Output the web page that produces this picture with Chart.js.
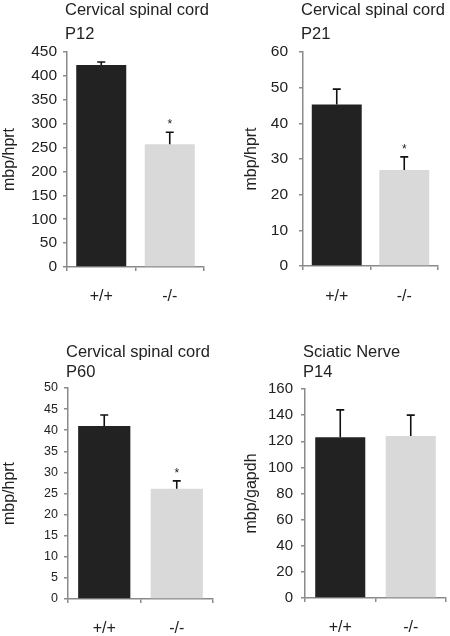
<!DOCTYPE html>
<html>
<head>
<meta charset="utf-8">
<script src="https://cdn.jsdelivr.net/npm/chart.js@4.4.0/dist/chart.umd.min.js"></script>
<style>
  body { margin: 0; background: #fff; }
  #wrap { position: relative; width: 450px; height: 636px; }
  canvas { position: absolute; }
</style>
</head>
<body>
<div id="wrap">
  <canvas id="c1" width="225" height="320" style="left:0;top:0"></canvas>
  <canvas id="c2" width="225" height="320" style="left:225px;top:0"></canvas>
  <canvas id="c3" width="225" height="316" style="left:0;top:320px"></canvas>
  <canvas id="c4" width="225" height="316" style="left:225px;top:320px"></canvas>
</div>
<script>
// genotypes
var genotypes = ['+/+', '-/-'];
var barColors = ['#222222', '#d9d9d9'];

// P12 cervical spinal cord
var p12Mean = [423, 257];
var p12Sem = [6, 25];
var p12Sig = [false, true];

// P21 cervical spinal cord
var p21Mean = [45.3, 26.9];
var p21Sem = [4.3, 3.7];
var p21Sig = [false, true];

// P60 cervical spinal cord
var p60Mean = [41, 26.1];
var p60Sem = [2.6, 1.9];
var p60Sig = [false, true];

// P14 sciatic nerve
var p14Mean = [123, 124];
var p14Sem = [21, 16];
var p14Sig = [false, false];

var FONT = '"Liberation Sans", Arial, Helvetica, sans-serif';
var AXIS = '#8a8a8a';
var TXT = '#222';

// error bars (upper only), asterisks and the two title lines
var deco = {
    id: 'deco',
    afterDatasetsDraw: function(chart, args, opts) {
        var ctx = chart.ctx;
        var y = chart.scales.y;
        var meta = chart.getDatasetMeta(0);
        ctx.save();
        ctx.strokeStyle = '#111';
        ctx.lineWidth = 1.6;
        meta.data.forEach(function(bar, i) {
            var m = opts.mean[i];
            var yb = y.getPixelForValue(m);
            var yt = y.getPixelForValue(m + opts.sem[i]);
            ctx.beginPath();
            ctx.moveTo(bar.x, yb);
            ctx.lineTo(bar.x, yt);
            ctx.moveTo(bar.x - 4, yt);
            ctx.lineTo(bar.x + 4, yt);
            ctx.stroke();
            if (opts.sig[i]) {
                ctx.fillStyle = TXT;
                ctx.font = '12px ' + FONT;
                ctx.textAlign = 'center';
                ctx.textBaseline = 'alphabetic';
                ctx.fillText('*', bar.x, yt - 4);
            }
        });
        ctx.fillStyle = TXT;
        ctx.font = opts.titleSize + 'px ' + FONT;
        ctx.textAlign = 'left';
        ctx.textBaseline = 'middle';
        var x0 = chart.chartArea.left - 2;
        ctx.fillText(opts.title, x0, opts.titleY[0]);
        ctx.fillText(opts.sub, x0, opts.titleY[1]);
        ctx.restore();
    }
};

function panel(id, mean, sem, sig, p) {
    new Chart(document.getElementById(id), {
        type: 'bar',
        data: {
            labels: genotypes,
            datasets: [{
                data: mean,
                backgroundColor: barColors,
                borderWidth: 0,
                barPercentage: p.barPct,
                categoryPercentage: 1
            }]
        },
        options: {
            responsive: false,
            animation: false,
            layout: { padding: p.pad },
            plugins: {
                legend: { display: false },
                tooltip: { enabled: false },
                deco: {
                    mean: mean, sem: sem, sig: sig,
                    title: p.title, sub: p.sub, titleY: p.titleY, titleSize: 16.5
                }
            },
            scales: {
                x: {
                    afterFit: function(s) { s.height = p.xh; },
                    border: { color: AXIS, width: 1.5 },
                    grid: { offset: true, drawOnChartArea: false, color: AXIS, lineWidth: 1.5, tickLength: 4 },
                    ticks: { color: TXT, font: { family: FONT, size: 16 }, padding: p.xpad }
                },
                y: {
                    min: 0,
                    max: p.max,
                    afterFit: function(s) { s.width = p.yw; },
                    border: { color: AXIS, width: 1.5 },
                    grid: { drawOnChartArea: false, color: AXIS, lineWidth: 1.5, tickLength: 4 },
                    ticks: { stepSize: p.step, color: TXT, font: { family: FONT, size: p.tick }, padding: p.ypad },
                    title: {
                        display: true, text: p.ylabel, color: TXT,
                        font: { family: FONT, size: 16 },
                        padding: { top: p.ytp, bottom: 0 }
                    }
                }
            }
        },
        plugins: [deco]
    });
}

panel('c1', p12Mean, p12Sem, p12Sig, {
    title: 'Cervical spinal cord', sub: 'P12', titleY: [10, 34],
    max: 450, step: 50, tick: 15.5, ylabel: 'mbp/hprt', ytp: 0, ypad: 6,
    yw: 67, xh: 40, xpad: 16, barPct: 0.73,
    pad: { top: 52, right: 21, bottom: 13, left: 0 }
});
panel('c2', p21Mean, p21Sem, p21Sig, {
    title: 'Cervical spinal cord', sub: 'P21', titleY: [10, 34],
    max: 60, step: 10, tick: 15.5, ylabel: 'mbp/hprt', ytp: 17, ypad: 11,
    yw: 78, xh: 40, xpad: 17, barPct: 0.74,
    pad: { top: 52, right: 12, bottom: 14, left: 0 }
});
panel('c3', p60Mean, p60Sem, p60Sig, {
    title: 'Cervical spinal cord', sub: 'P60', titleY: [32, 52],
    max: 50, step: 5, tick: 12.5, ylabel: 'mbp/hprt', ytp: 0, ypad: 6,
    yw: 68, xh: 36, xpad: 16, barPct: 0.72,
    pad: { top: 68, right: 12, bottom: 1, left: 0 }
});
panel('c4', p14Mean, p14Sem, p14Sig, {
    title: 'Sciatic Nerve', sub: 'P14', titleY: [32, 52],
    max: 160, step: 20, tick: 15, ylabel: 'mbp/gapdh', ytp: 17, ypad: 8,
    yw: 80, xh: 36, xpad: 16, barPct: 0.71,
    pad: { top: 69, right: 4, bottom: 2, left: 0 }
});
</script>
</body>
</html>
